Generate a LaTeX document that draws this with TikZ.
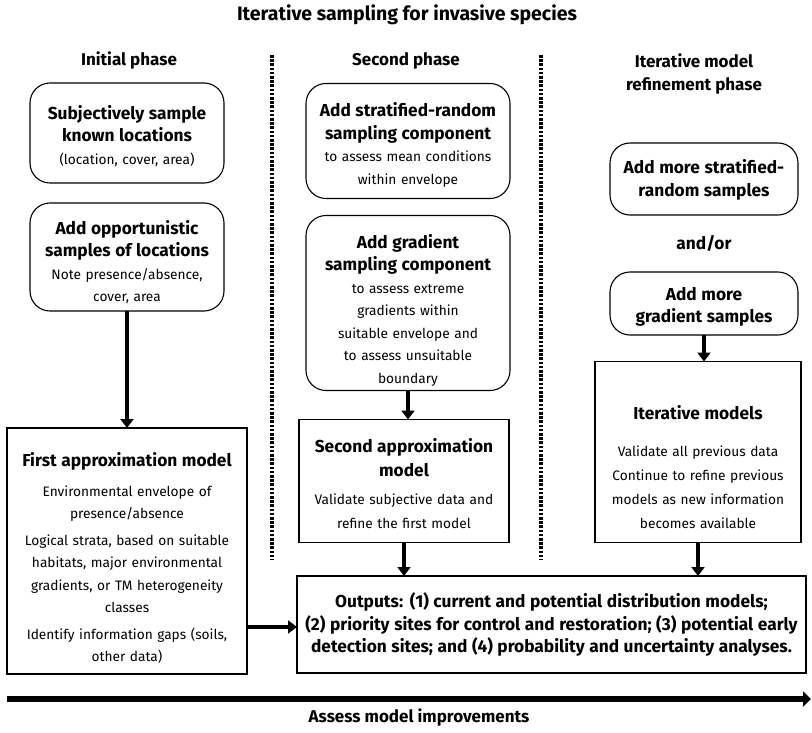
\documentclass[tikz,border=0pt]{standalone}
\usepackage{fontspec}
\setmainfont{Fira Sans}
\usetikzlibrary{arrows.meta}

\tikzset{
  every node/.style={inner sep=0pt, outer sep=0pt},
  roundbox/.style={draw, line width=1.1pt, rounded corners=20pt},
  squarebox/.style={draw, line width=1.1pt},
  boxtext/.style={align=center, font=\fontsize{13.7}{22.5}\selectfont},
  widetext/.style={align=center, font=\fontsize{13.7}{24}\selectfont},
  heading/.style={align=center, font=\bfseries\fontsize{17}{23}\selectfont},
  flow/.style={line width=4pt, -{Triangle[width=13pt,length=9pt]}},
  divider/.style={line width=4pt, dash pattern=on 2.6pt off 1.6pt},
}
\newcommand{\bt}[1]{{\bfseries\fontsize{17.3}{23}\selectfont #1}}

\begin{document}
\begin{tikzpicture}[x=1pt,y=-1pt]
\useasboundingbox (0,0) rectangle (812,733);

% titles
\node[heading, font=\bfseries\fontsize{19.5}{24}\selectfont, anchor=base] (title) at (407,21)
  {Iterative sampling for invasive species};
\node[heading, anchor=base] (h1) at (129,66) {Initial phase};
\node[heading, anchor=base] (h2) at (406,66) {Second phase};
\node[heading] (h3) at (694,74) {Iterative model\\refinement phase};

% phase dividers
\coordinate (d1t) at (272,55);
\coordinate (d1b) at (272,560);
\coordinate (d2t) at (541,55);
\coordinate (d2b) at (541,560);
\draw[divider] (d1t) -- (d1b);
\draw[divider] (d2t) -- (d2b);

% initial phase
\node[roundbox, minimum width=194pt, minimum height=100pt] (a1) at (127,133) {};
\node[boxtext, text width=190pt] (a1t) at (127,136)
  {\bt{Subjectively sample\\known locations}\\(location, cover, area)};
\node[roundbox, minimum width=194pt, minimum height=108pt] (a2) at (127,257) {};
\node[boxtext, text width=190pt] (a2t) at (127,262)
  {\bt{Add opportunistic\\samples of locations}\\Note presence/absence,\\cover, area};
\node[squarebox, minimum width=240pt, minimum height=246pt] (a3) at (127,551) {};
\node[boxtext, text width=238pt] (a3t) at (127,558)
  {\bt{First approximation model}\\[7pt]
   Environmental envelope of\\presence/absence\\[4pt]
   Logical strata, based on suitable\\habitats, major environmental\\gradients, or TM heterogeneity\\classes\\[4pt]
   Identify information gaps (soils,\\other data)};

% second phase
\node[roundbox, minimum width=204pt, minimum height=115pt] (b1) at (408,141) {};
\node[boxtext, text width=200pt] (b1t) at (408,145)
  {\bt{Add stratified-random\\sampling component}\\to assess mean conditions\\within envelope};
\node[roundbox, minimum width=204pt, minimum height=175pt] (b2) at (408,303) {};
\node[boxtext, text width=200pt] (b2t) at (408,310)
  {\bt{Add gradient\\sampling component}\\to assess extreme\\gradients within\\suitable envelope and\\to assess unsuitable\\boundary};
\node[squarebox, minimum width=210pt, minimum height=123pt] (b3) at (404,481) {};
\node[widetext, text width=208pt] (b3t) at (404,484)
  {\bt{Second approximation\\model}\\[4pt]Validate subjective data and\\refine the first model};

% refinement phase
\node[roundbox, minimum width=188pt, minimum height=72pt] (c1) at (704,179) {};
\node[boxtext, text width=186pt] (c1t) at (704,180)
  {\bt{Add more stratified-\\random samples}};
\node[align=center, font=\bfseries\fontsize{17.3}{23}\selectfont] (andor) at (704,243) {and/or};
\node[roundbox, minimum width=188pt, minimum height=63pt] (c2) at (704,303.5) {};
\node[boxtext, text width=186pt] (c2t) at (704,307)
  {\bt{Add more\\gradient samples}};
\node[squarebox, minimum width=206pt, minimum height=181pt] (c3) at (698,452) {};
\node[widetext, text width=204pt] (c3t) at (698,467)
  {\bt{Iterative models}\\[13pt]
   Validate all previous data\\Continue to refine previous\\models as new information\\becomes available};

% outputs
\node[squarebox, minimum width=509pt, minimum height=97pt] (out) at (551.5,624.5) {};
\node[boxtext, text width=509pt] (outt) at (551.5,624.5)
  {\bt{Outputs: (1) current and potential distribution models;\\(2) priority sites for control and restoration; (3) potential early\\detection sites; and (4) probability and uncertainty analyses.}};

% flow arrows
\draw[flow] (a2.south) -- (a3.north);
\draw[flow] (b2.south) -- (b2.south |- b3.north);
\draw[flow] (b3.south) -- (b3.south |- out.north);
\draw[flow] (c2.south) -- (c2.south |- c3.north);
\draw[flow] (c3.south) -- (c3.south |- out.north);
\draw[flow] (a3.east |- 0,627) -- (out.west |- 0,627);

% improvement axis
\coordinate (ax0) at (7,699);
\coordinate (ax1) at (811,699);
\draw[line width=6pt, -{Triangle[width=15pt,length=8pt]}] (ax0) -- (ax1);
\node[heading, anchor=base] (axlabel) at (419,722) {Assess model improvements};
\end{tikzpicture}
\end{document}
